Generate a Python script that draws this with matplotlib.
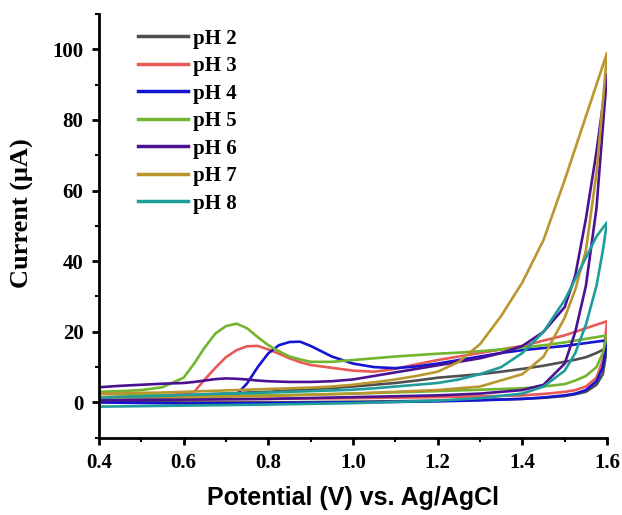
import matplotlib
matplotlib.use("Agg")
import matplotlib.pyplot as plt
from matplotlib.ticker import MultipleLocator

# potential grids (V): forward scan 0.4 -> 1.6, reverse scan 1.6 -> 0.4
E_fwd = [0.40, 0.45, 0.50, 0.55, 0.60, 0.625, 0.65, 0.675, 0.70, 0.725, 0.75,
         0.775, 0.80, 0.825, 0.85, 0.875, 0.90, 0.95, 1.00, 1.05, 1.10, 1.15,
         1.20, 1.25, 1.30, 1.35, 1.40, 1.45, 1.50, 1.525, 1.55, 1.575, 1.60]
E_rev = [1.60, 1.59, 1.575, 1.55, 1.525, 1.50, 1.45, 1.40, 1.30, 1.20, 1.00,
         0.80, 0.60, 0.40]

labels = ['pH 2', 'pH 3', 'pH 4', 'pH 5', 'pH 6', 'pH 7', 'pH 8']
colors = ['#4f4f4f', '#e85a55', '#1414d2', '#72b52e', '#4a1290', '#b9962e', '#1f9c9c']

# current (uA)
ph2_fwd = [1.0, 1.2, 1.4, 1.6, 2.0, 2.1, 2.3, 2.4, 2.5, 2.6, 2.8, 2.9, 3.0, 3.2, 3.4, 3.6, 3.8,
           4.1, 4.5, 5.0, 5.5, 6.2, 7.0, 7.5, 8.0, 8.7, 9.5, 10.4, 11.5, 12.1, 12.8, 14.0, 15.5]
ph2_rev = [15.5, 8.0, 5.0, 3.0, 2.3, 1.8, 1.3, 1.0, 0.7, 0.5, 0.2, 0.0, 0.0, 0.2]

ph3_fwd = [1.5, 1.6, 1.8, 2.0, 2.4, 3.0, 6.5, 9.8, 12.8, 14.8, 15.9, 16.0, 15.0, 13.8, 12.5, 11.4, 10.6,
           9.8, 9.0, 8.7, 9.5, 10.8, 12.0, 13.0, 14.0, 15.0, 16.0, 17.5, 19.0, 20.0, 21.0, 22.0, 23.0]
ph3_rev = [23.0, 12.0, 7.0, 4.5, 3.5, 3.0, 2.4, 2.0, 1.7, 1.5, 1.2, 1.0, 0.8, 1.0]

ph4_fwd = [0.5, 0.6, 0.8, 0.9, 1.0, 1.1, 1.2, 1.3, 1.5, 2.2, 5.4, 10.0, 13.9, 16.2, 17.1, 17.2, 16.0,
           13.0, 11.0, 10.0, 9.7, 10.2, 11.0, 12.0, 13.0, 14.0, 14.8, 15.4, 16.0, 16.4, 16.8, 17.2, 17.6]
ph4_rev = [17.6, 10.0, 6.0, 3.5, 2.5, 2.0, 1.4, 1.0, 0.6, 0.3, 0.0, -0.2, -0.3, 0.0]

ph5_fwd = [3.0, 3.2, 3.5, 4.3, 7.0, 11.0, 15.6, 19.5, 21.6, 22.3, 21.0, 18.5, 16.2, 14.5, 13.0, 12.2, 11.5,
           11.5, 12.0, 12.5, 13.0, 13.4, 13.8, 14.1, 14.5, 15.0, 15.5, 16.2, 17.0, 17.5, 18.0, 18.5, 19.0]
ph5_rev = [19.0, 14.0, 10.0, 7.5, 6.2, 5.2, 4.5, 4.0, 3.6, 3.2, 2.5, 2.0, 1.8, 2.5]

ph6_fwd = [4.3, 4.7, 5.0, 5.3, 5.5, 5.8, 6.2, 6.6, 6.8, 6.7, 6.5, 6.2, 6.0, 5.9, 5.8, 5.8, 5.8,
           6.0, 6.5, 7.5, 8.5, 9.5, 10.5, 11.5, 12.5, 14.0, 16.0, 20.0, 27.0, 36.0, 52.0, 71.0, 93.0]
ph6_rev = [93.0, 78.0, 55.0, 33.0, 20.0, 11.0, 5.0, 3.5, 2.5, 2.0, 1.5, 1.0, 0.8, 0.5]

ph7_fwd = [2.5, 2.6, 2.7, 2.8, 3.0, 3.1, 3.2, 3.3, 3.4, 3.5, 3.6, 3.7, 3.8, 3.9, 4.0, 4.1, 4.2,
           4.5, 5.0, 5.7, 6.5, 7.5, 8.7, 11.5, 16.5, 24.5, 34.0, 46.0, 63.0, 72.0, 81.0, 90.0, 99.0]
ph7_rev = [99.0, 85.0, 65.0, 43.0, 32.0, 24.0, 13.0, 8.0, 4.5, 3.5, 2.5, 1.8, 1.5, 1.5]

ph8_fwd = [1.3, 1.5, 1.7, 1.9, 2.1, 2.2, 2.3, 2.4, 2.5, 2.6, 2.6, 2.7, 2.8, 2.9, 3.0, 3.1, 3.2,
           3.4, 3.6, 4.0, 4.5, 5.0, 5.5, 6.5, 8.0, 10.0, 14.0, 20.0, 29.0, 35.0, 41.0, 47.0, 51.0]
ph8_rev = [51.0, 43.0, 33.0, 22.0, 14.0, 9.0, 4.5, 2.5, 1.2, 0.5, -0.2, -0.6, -0.9, -1.2]

fwd = [ph2_fwd, ph3_fwd, ph4_fwd, ph5_fwd, ph6_fwd, ph7_fwd, ph8_fwd]
rev = [ph2_rev, ph3_rev, ph4_rev, ph5_rev, ph6_rev, ph7_rev, ph8_rev]

serif = 'Liberation Serif'

fig = plt.figure(figsize=(6.22, 5.15), dpi=100)
ax = fig.add_axes([0.159, 0.150, 0.817, 0.823])

for i in range(len(labels)):
    ax.plot(E_fwd + E_rev, fwd[i] + rev[i], color=colors[i], lw=1.9, label=labels[i])

ax.set_xlim(0.4, 1.6)
ax.set_ylim(-10, 110)
ax.xaxis.set_major_locator(MultipleLocator(0.2))
ax.xaxis.set_minor_locator(MultipleLocator(0.1))
ax.yaxis.set_minor_locator(MultipleLocator(10))
ax.set_yticks([0, 20, 40, 60, 80, 100])

for s in ['top', 'right']:
    ax.spines[s].set_visible(False)
for s in ['left', 'bottom']:
    ax.spines[s].set_linewidth(2.0)

ax.tick_params(which='major', length=5, width=2, direction='out', pad=6)
ax.tick_params(which='minor', length=3, width=1.5, direction='out')
for lab in ax.get_xticklabels() + ax.get_yticklabels():
    lab.set_fontfamily(serif)
    lab.set_fontweight('bold')
    lab.set_fontsize(15)

ax.set_xlabel('Potential (V) vs. Ag/AgCl', fontfamily='Liberation Sans', fontweight='bold',
              fontsize=18, labelpad=9)
ax.set_ylabel('Current (\u03bcA)', fontfamily=serif, fontweight='bold', fontsize=19)
ax.yaxis.set_label_coords(-0.127, 0.53)

leg = ax.legend(loc='upper left', bbox_to_anchor=(0.06, 0.985), frameon=False,
                prop={'family': serif, 'weight': 'bold', 'size': 15},
                handlelength=2.4, handletextpad=0.25, labelspacing=0.36, borderaxespad=0)
for line in leg.get_lines():
    line.set_linewidth(2.5)

fig.savefig('out.png', dpi=100)
